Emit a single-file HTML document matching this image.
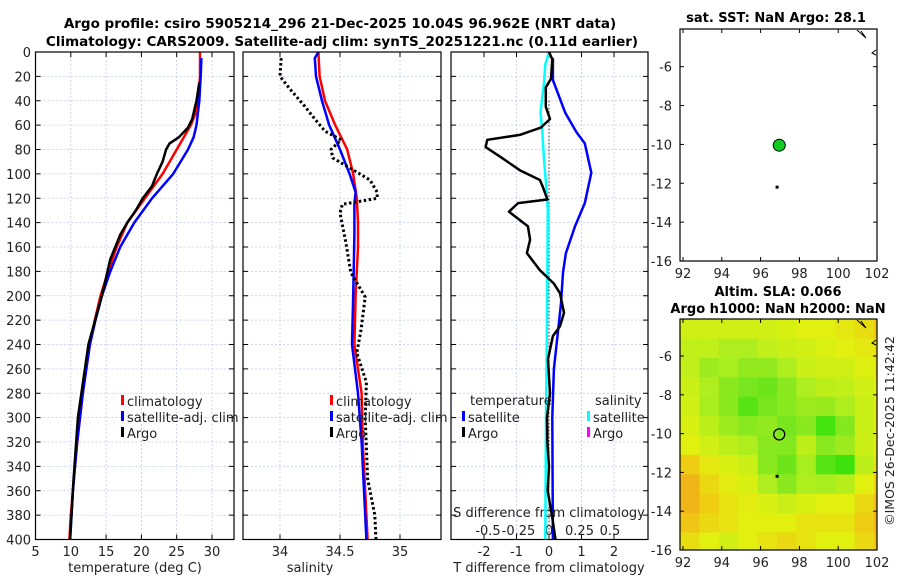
<!DOCTYPE html>
<html><head><meta charset="utf-8">
<style>
html,body{margin:0;padding:0;background:#fff;}
svg{display:block;font-family:"DejaVu Sans","Liberation Sans",sans-serif;}
</style></head>
<body>
<svg id="fig" width="900" height="580" viewBox="0 0 900 580" xmlns="http://www.w3.org/2000/svg">
<text x="340" y="28" font-size="13.5" font-weight="bold" text-anchor="middle">Argo profile: csiro 5905214_296 21-Dec-2025 10.04S 96.962E (NRT data)</text>
<text x="342" y="46" font-size="13.5" font-weight="bold" text-anchor="middle">Climatology: CARS2009. Satellite-adj clim: synTS_20251221.nc (0.11d earlier)</text>
<text x="776" y="22" font-size="13" font-weight="bold" text-anchor="middle">sat. SST: NaN Argo: 28.1</text>
<text x="778" y="296" font-size="13" font-weight="bold" text-anchor="middle">Altim. SLA: 0.066</text>
<text x="778" y="313" font-size="13" font-weight="bold" text-anchor="middle">Argo h1000: NaN h2000: NaN</text>
<text transform="translate(894,431) rotate(-90)" font-size="12.5" text-anchor="middle" fill="#222">©IMOS 26-Dec-2025 11:42:42</text>
<g id="g"></g>
</svg>
<script>
// ---- data ----
const depthClim = [0,20,40,50,60,70,80,100,120,140,160,180,200,220,240,260,280,300,320,340,360,380,400];
const tempClim  = [28.3,28.3,28.0,27.7,27.0,26.0,25.0,23.0,20.5,18.0,16.5,15.3,14.2,13.4,12.7,12.2,11.7,11.3,10.9,10.6,10.3,10.0,9.8];
const depthSat  = [5,20,40,60,70,80,100,120,140,160,180,200,220,240,260,280,300,320,340,360,380,400];
const tempSat   = [28.5,28.4,28.2,27.8,27.4,26.6,24.5,21.5,19.0,17.0,15.6,14.4,13.5,12.7,12.2,11.7,11.3,10.9,10.6,10.3,10.1,9.9];
const depthArgo = [25,40,55,62,70,75,80,90,100,110,120,130,140,150,160,170,180,200,240,300,350,400];
const tempArgo  = [28.2,27.8,27.2,26.6,25.3,24.0,23.5,23.0,22.2,21.5,20.2,19.2,18.0,17.0,16.3,15.6,15.2,14.4,12.5,11.0,10.4,9.9];
const salDepthClim = [0,20,40,60,80,100,120,140,160,200,240,280,320,360,400];
const salClim      = [34.32,34.33,34.375,34.46,34.56,34.61,34.64,34.65,34.65,34.63,34.62,34.68,34.69,34.71,34.73];
const salDepthSat  = [0,5,20,40,60,80,100,115,125,150,200,240,280,320,360,400];
const salSat       = [34.32,34.29,34.3,34.35,34.41,34.5,34.58,34.63,34.62,34.62,34.61,34.6,34.65,34.68,34.7,34.72];
const salDepthArgo = [5,20,30,45,55,65,72,80,87,95,105,115,120,125,132,157,181,201,228,247,271,300,350,380,400];
const salArgo      = [34.01,34.0,34.08,34.21,34.29,34.375,34.51,34.425,34.44,34.58,34.75,34.81,34.81,34.52,34.5,34.55,34.59,34.71,34.675,34.64,34.72,34.71,34.73,34.79,34.8];
const dDepthSatT = [5,23,50,66,75,99,124,143,165,181,206,236,260,300,400];
const dSatT      = [0.12,0.12,0.5,0.85,1.1,1.3,1.1,0.8,0.52,0.43,0.37,0.25,0.15,0.1,0.12];
const dDepthSatS = [0,10,25,49,66,89,108,130,200,300,400];
const dSatS      = [0,-0.03,-0.04,-0.07,-0.055,-0.04,-0.025,-0.01,-0.015,-0.025,-0.03];
const dDepthArgo = [0,6,22,29,45,55,62,68,72,78,86,97,105,110,121,124,131,143,154,165,179,190,198,214,225,233,252,280,300,320,340,360,380,400];
const dArgoT     = [0,0.1,0.06,-0.1,-0.1,0.03,-0.25,-0.9,-1.9,-1.95,-1.5,-0.9,-0.28,-0.2,-0.05,-0.95,-1.23,-0.65,-0.58,-0.68,-0.28,0.15,0.34,0.46,0.34,0.12,-0.03,0.03,-0.06,-0.05,0.0,-0.04,0.09,0.2];
const yTicks = [0,20,40,60,80,100,120,140,160,180,200,220,240,260,280,300,320,340,360,380,400];
const tTicks = [5,10,15,20,25,30];
const sTicks = [34,34.5,35];
const dTTicks = [-2,-1,0,1,2];
const dSTicks = ['-0.5','-0.25','0','0.25','0.5'];
const lonTicks = [92,94,96,98,100,102];
const latTicks = [-6,-8,-10,-12,-14,-16];
const argoLon = 96.962, argoLat = -10.04;
const slaGrid = [
[0.5,0.5,0.5,0.5,0.5,0.48,0.45,0.45,0.42,0.38,0.3],
[0.55,0.55,0.6,0.6,0.55,0.52,0.5,0.47,0.45,0.42,0.38],
[0.55,0.65,0.62,0.68,0.68,0.6,0.52,0.5,0.5,0.46,0.42],
[0.52,0.6,0.7,0.75,0.78,0.7,0.6,0.56,0.55,0.5,0.45],
[0.5,0.62,0.7,0.85,0.75,0.7,0.65,0.66,0.6,0.52,0.45],
[0.48,0.56,0.65,0.7,0.68,0.75,0.7,0.9,0.72,0.52,0.45],
[0.45,0.5,0.56,0.6,0.7,0.72,0.56,0.7,0.65,0.52,0.44],
[0.32,0.42,0.48,0.52,0.7,0.78,0.62,0.85,0.92,0.56,0.4],
[0.18,0.36,0.44,0.48,0.6,0.7,0.6,0.62,0.58,0.45,0.32],
[0.18,0.32,0.4,0.44,0.48,0.52,0.48,0.45,0.45,0.36,0.22],
[0.28,0.36,0.4,0.45,0.45,0.45,0.4,0.4,0.4,0.32,0.18],
[0.38,0.45,0.5,0.45,0.4,0.36,0.4,0.45,0.45,0.36,0.28]];

// ---- scales ----
const NS='http://www.w3.org/2000/svg';
const G=document.getElementById('g');
function mk(tag,at,parent){const e=document.createElementNS(NS,tag);for(const k in at)e.setAttribute(k,at[k]);(parent||G).appendChild(e);return e;}
const TOP=52,BOT=539.5;
const yD=d=>TOP+d*(BOT-TOP)/400;
const xT=t=>35.5+(t-5)*7.06;
const xS=s=>340+(s-34.5)*120;
const xdT=v=>549+v*32.5;
const xdS=v=>549+v*122;
const mLon=l=>683+(l-92)*19.4;
const m1Lat=l=>66.7+(-6-l)*19.43;
const m2Lat=l=>356+(-6-l)*19.4;

function frame(x0,x1,y0,y1,name){
  const r=mk('rect',{x:x0,y:y0,width:x1-x0,height:y1-y0,fill:'none',stroke:'#000','stroke-width':1.2});
  
  
}
function vgrid(x,y0,y1){mk('line',{x1:x,x2:x,y1:y0,y2:y1,stroke:'#c0c8e8','stroke-width':0.8,'stroke-dasharray':'2,2'});}
function hgrid(y,x0,x1){mk('line',{x1:x0,x2:x1,y1:y,y2:y,stroke:'#c0c8e8','stroke-width':0.8,'stroke-dasharray':'2,2'});}
function tick(x1,y1,x2,y2){mk('line',{x1:x1,y1:y1,x2:x2,y2:y2,stroke:'#000','stroke-width':1});}
function txt(s,x,y,opt,name){const t=mk('text',Object.assign({x:x,y:y,'font-size':13,fill:'#222'},opt||{}));t.textContent=s;return t;}
function line(xs,ds,xf,color,w,name,dash){
  const pts=xs.map((v,i)=>xf(v).toFixed(1)+','+yD(ds[i]).toFixed(1)).join(' ');
  const p=mk('polyline',{points:pts,fill:'none',stroke:color,'stroke-width':w,'stroke-linejoin':'round'});
  if(dash)p.setAttribute('stroke-dasharray',dash);
  
  
}
function panel(x0,x1,xticks,xf,lbls,name){
  xticks.forEach(t=>vgrid(xf(t),TOP,BOT));
  yTicks.forEach(d=>{if(d>0&&d<400)hgrid(yD(d),x0,x1);});
  yTicks.forEach(d=>{tick(x0,yD(d),x0+5,yD(d));tick(x1,yD(d),x1-5,yD(d));});
  xticks.forEach(t=>{tick(xf(t),BOT,xf(t),BOT-5);tick(xf(t),TOP,xf(t),TOP+5);});
  if(lbls)xticks.forEach(t=>txt(String(t),xf(t),556,{'text-anchor':'middle'},name+'-tick-label'));
}
// panel 1
panel(35.5,234,tTicks,xT,true,'temp-x');
yTicks.forEach(d=>txt(String(d),31,yD(d)+5,{'text-anchor':'end'},'depth-tick-label'));
txt('temperature (deg C)',135,572,{'text-anchor':'middle'},'temp-x-axis-title');
line(tempClim,depthClim,xT,'#f00',2.5,'temp-climatology-line');
line(tempSat,depthSat,xT,'#00f',2.5,'temp-satellite-line');
line(tempArgo,depthArgo,xT,'#000',2.5,'temp-argo-line');
frame(35.5,234,TOP,BOT,'temperature-panel');
// panel 2
panel(243,441,sTicks,xS,true,'sal-x');
txt('salinity',310,572,{'text-anchor':'middle'},'salinity-x-axis-title');
line(salClim,salDepthClim,xS,'#f00',2.5,'sal-climatology-line');
line(salSat,salDepthSat,xS,'#00f',2.5,'sal-satellite-line');
line(salArgo,salDepthArgo,xS,'#000',3,'sal-argo-line','2.5,2.5');
frame(243,441,TOP,BOT,'salinity-panel');
// panel 3
panel(451,648,dTTicks,xdT,true,'dT-x');
txt('T difference from climatology',549,572,{'text-anchor':'middle'},'tdiff-x-axis-title');
txt('S difference from climatology',549,517,{'text-anchor':'middle'},'sdiff-axis-title');
dSTicks.forEach(s=>txt(s,xdS(parseFloat(s)),535,{'text-anchor':'middle'},'sdiff-tick-label'));
mk('line',{x1:549,x2:549,y1:yD(40),y2:BOT,stroke:'#333','stroke-width':1,'stroke-dasharray':'1.5,2'});
line(dSatS,dDepthSatS,xdS,'#0ff',2.5,'sdiff-satellite-line');
line(dSatT,dDepthSatT,xdT,'#00f',2.5,'tdiff-satellite-line');
line(dArgoT,dDepthArgo,xdT,'#000',2.5,'tdiff-argo-line');
frame(451,648,TOP,BOT,'difference-panel');
// legends
function leg(x,y,c,s,name){mk('rect',{x:x,y:y-9,width:3,height:10,fill:c});txt(s,x+6,y+2,{},name);}
leg(121,404,'#f00','climatology','legend-climatology');
leg(121,420,'#00f','satellite-adj. clim','legend-satellite');
leg(121,436,'#000','Argo','legend-argo');
leg(330,404,'#f00','climatology','legend-sal-climatology');
leg(330,420,'#00f','satellite-adj. clim','legend-sal-satellite');
leg(330,436,'#000','Argo','legend-sal-argo');
txt('temperature',470,405,{},'legend-temperature-heading');
leg(462,420,'#00f','satellite','legend-t-satellite');
leg(462,436,'#000','Argo','legend-t-argo');
txt('salinity',595,405,{},'legend-salinity-heading');
leg(587,420,'#0ff','satellite','legend-s-satellite');
leg(587,436,'#f0f','Argo','legend-s-argo');

// maps
function mapAxes(y0,y1,latf,name){
  lonTicks.forEach(l=>{tick(mLon(l),y1,mLon(l),y1-4);tick(mLon(l),y0,mLon(l),y0+4);txt(String(l),mLon(l),y1+17,{'text-anchor':'middle'},name+'-lon-label');});
  latTicks.forEach(l=>{tick(680,latf(l),684,latf(l));tick(877,latf(l),873,latf(l));txt(String(l),672,latf(l)+5,{'text-anchor':'end'},name+'-lat-label');});
  mk('polyline',{points:'857,'+(y0+1)+' 866,'+(y0+9)+' 861,'+(y0+2),fill:'none',stroke:'#000','stroke-width':1});
  mk('polyline',{points:'876,'+(y0+21)+' 872,'+(y0+24)+' 876,'+(y0+26),fill:'none',stroke:'#000','stroke-width':1});
  frame(680,877,y0,y1,name);
}
mapAxes(29,261,m1Lat,'sst-map');
const dot=mk('circle',{cx:mLon(argoLon),cy:m1Lat(argoLat),r:6,fill:'#11cc22',stroke:'#000','stroke-width':1});


mk('rect',{x:mLon(96.85)-1.5,y:m1Lat(-12.2)-1.5,width:3,height:3,fill:'#000'});

// SLA heatmap colour stops
const stops=[[0,[238,150,30]],[0.3,[240,200,20]],[0.45,[225,240,15]],[0.6,[175,238,30]],[0.75,[120,230,30]],[1,[35,225,5]]];
function col(g){
  for(let k=1;k<stops.length;k++){
    if(g<=stops[k][0]){const a=stops[k-1],b=stops[k];const t=(g-a[0])/(b[0]-a[0]);
      return 'rgb('+a[1].map((v,i)=>Math.round(v+(b[1][i]-v)*t)).join(',')+')';}
  }
  return 'rgb(35,225,5)';
}
const hm=mk('g',{});


slaGrid.forEach((row,i)=>row.forEach((v,j)=>{
  const lon0=91.85+j, lat0=-4.1-i;
  const x0=Math.max(680,mLon(lon0)), x1=Math.min(877,mLon(lon0+1));
  const y0=m2Lat(lat0), y1=Math.min(550,m2Lat(lat0-1));
  const c=mk('rect',{x:x0,y:y0,width:x1-x0+0.5,height:y1-y0+0.5,fill:col(v)},hm);
  
  
}));
mapAxes(319,550,m2Lat,'sla-map');
const ring=mk('circle',{cx:mLon(argoLon),cy:m2Lat(argoLat),r:5.5,fill:'none',stroke:'#000','stroke-width':1.3});


mk('rect',{x:mLon(96.85)-1.5,y:m2Lat(-12.2)-1.5,width:3,height:3,fill:'#000'});
</script>
</body></html>
